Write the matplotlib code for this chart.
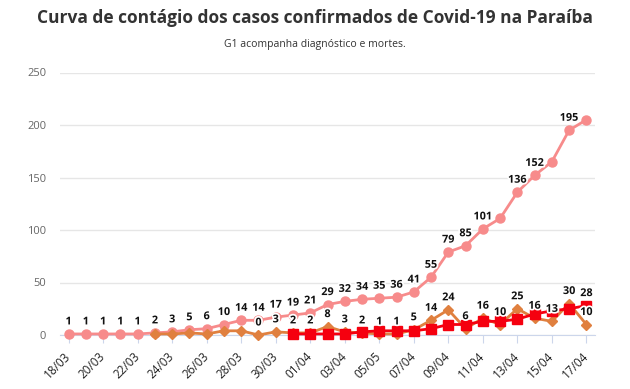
import numpy as np
import matplotlib
matplotlib.use('Agg')
import matplotlib.pyplot as plt
import matplotlib.patheffects as pe

# dias 18/03 .. 17/04
dates = ['18/03', '19/03', '20/03', '21/03', '22/03', '23/03', '24/03', '25/03', '26/03',
         '27/03', '28/03', '29/03', '30/03', '31/03', '01/04', '02/04', '03/04', '04/04',
         '05/04', '06/04', '07/04', '08/04', '09/04', '10/04', '11/04', '12/04', '13/04',
         '14/04', '15/04', '16/04', '17/04']
tick_labels = ['18/03', '20/03', '22/03', '24/03', '26/03', '28/03', '30/03', '01/04',
               '03/04', '05/05', '07/04', '09/04', '11/04', '13/04', '15/04', '17/04']

# casos confirmados (acumulado)
confirmados = [1, 1, 1, 1, 1, 2, 3, 5, 6, 10, 14, 14, 17, 19, 21, 29, 32, 34, 35, 36,
               41, 55, 79, 85, 101, 111, 136, 152, 165, 195, 205]
# novos casos por dia, a partir de 23/03
novos_inicio = '23/03'
novos = [1, 1, 2, 1, 4, 4, 0, 3, 2, 2, 8, 3, 2, 1, 1, 5, 14, 24, 6, 16, 10, 25, 16, 13, 30, 10]
# mortes (acumulado), a partir de 31/03
mortes_inicio = '31/03'
mortes = [1, 1, 1, 1, 3, 4, 4, 4, 6, 10, 10, 13, 13, 15, 20, 23, 25, 28]

# rotulos escondidos pelo grafico original
conf_sem_rotulo = ['12/04', '15/04', '17/04']
novos_rotulo_desde = '29/03'
mortes_rotulo = ['17/04']

PINK = '#f78b8b'
ORANGE = '#e0803f'
RED = '#f5000f'

plt.rcParams['font.family'] = ['Open Sans', 'DejaVu Sans']

fig = plt.figure(figsize=(6.3, 3.89), dpi=100)
ax = fig.add_axes([60/630, 1-335/389, 535/630, (335-72.5)/389])

x_all = np.arange(len(dates))
i_novos = dates.index(novos_inicio)
i_mortes = dates.index(mortes_inicio)
x_novos = x_all[i_novos:i_novos+len(novos)]
x_mortes = x_all[i_mortes:i_mortes+len(mortes)]

ax.plot(x_all, confirmados, color=PINK, lw=2, marker='o', ms=6.5, clip_on=False, zorder=3)
ax.plot(x_novos, novos, color=ORANGE, lw=2, marker='D', ms=5, clip_on=False, zorder=4)
ax.plot(x_mortes, mortes, color=RED, lw=2, marker='s', ms=6.5, clip_on=False, zorder=5)

outline = [pe.withStroke(linewidth=2.5, foreground='white')]

def label(x, y):
    ax.annotate(str(y), (x, y), xytext=(0, 12), textcoords='offset pixels',
                ha='center', va='center', fontsize=7.8, fontweight='bold',
                color='#111111', path_effects=outline, zorder=10, annotation_clip=False)

for i, v in enumerate(confirmados):
    if dates[i] not in conf_sem_rotulo:
        label(x_all[i], v)
for xi, v in zip(x_novos, novos):
    if xi >= dates.index(novos_rotulo_desde):
        label(xi, v)
for xi, v in zip(x_mortes, mortes):
    if dates[xi] in mortes_rotulo:
        label(xi, v)

ax.set_xlim(-0.5, len(dates) - 0.5)
ax.set_ylim(0, 250)
ax.set_yticks([0, 50, 100, 150, 200, 250])
ax.grid(axis='y', color='#e6e6e6', lw=1)
ax.set_axisbelow(True)
for s in ['top', 'right', 'left']:
    ax.spines[s].set_visible(False)
ax.spines['bottom'].set_color('#ccd6eb')
ax.spines['bottom'].set_zorder(1)

ax.set_xticks(x_all[::2])
ax.set_xticklabels(tick_labels, rotation=45, ha='right', va='center',
                   rotation_mode='anchor', fontsize=8.5, color='#222222')
ax.tick_params(axis='x', length=6, color='#ccd6eb', pad=8)
ax.tick_params(axis='y', length=0, pad=10, labelsize=8, labelcolor='#666666')

fig.text(0.5, 1-18/389, 'Curva de contágio dos casos confirmados de Covid-19 na Paraíba',
         ha='center', va='center', fontsize=12.5, fontweight='bold', color='#333333')
fig.text(0.5, 1-45/389, 'G1 acompanha diagnóstico e mortes.',
         ha='center', va='center', fontsize=7.5, color='#333333')

fig.savefig('out.png', dpi=100)
